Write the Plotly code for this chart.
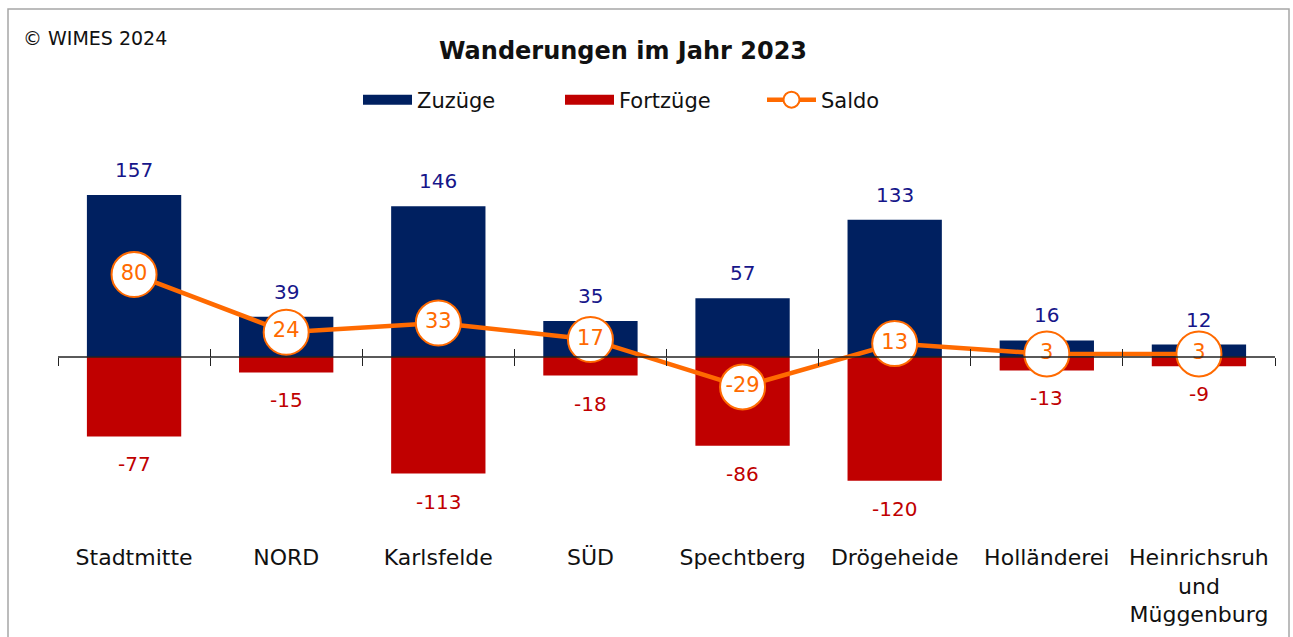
import plotly.graph_objects as go

categories = ["Stadtmitte", "NORD", "Karlsfelde", "SÜD", "Spechtberg",
              "Drögeheide", "Holländerei", "Heinrichsruh<br>und<br>Müggenburg"]
zuzuege = [157, 39, 146, 35, 57, 133, 16, 12]
fortzuege = [-77, -15, -113, -18, -86, -120, -13, -9]
saldo = [80, 24, 33, 17, -29, 13, 3, 3]

NAVY = "#002060"
RED = "#C00000"
ORANGE = "#FF6A00"
LABEL_NAVY = "#16168A"
FONT = "DejaVu Sans"

W, H = 1293, 637
ML, MR, MT, MB = 58, 18, 150, 102
Y_MIN, Y_MAX = -172.5, 200.6
zero_pos = (0 - Y_MIN) / (Y_MAX - Y_MIN)
plot_w = W - ML - MR
plot_h = H - MT - MB
n = len(categories)

fig = go.Figure()

fig.add_trace(go.Bar(x=categories, y=zuzuege, marker=dict(color=NAVY, line=dict(width=0)),
                     width=0.62, showlegend=False, name="Zuzüge", hoverinfo="skip"))
fig.add_trace(go.Bar(x=categories, y=fortzuege, marker=dict(color=RED, line=dict(width=0)),
                     width=0.62, showlegend=False, name="Fortzüge", hoverinfo="skip"))

# zero axis line with crossing tick marks (two overlaying axes)
for ax in ("x2", "x3"):
    fig.add_trace(go.Scatter(x=[-0.5, n - 0.5], y=[0, 0], xaxis=ax, mode="lines",
                             line=dict(color="#222222", width=1), showlegend=False,
                             hoverinfo="skip"))

# legend swatches
fig.add_trace(go.Scatter(x=[None], y=[None], mode="lines", name="Zuzüge",
                         line=dict(color=NAVY, width=13)))
fig.add_trace(go.Scatter(x=[None], y=[None], mode="lines", name="Fortzüge",
                         line=dict(color=RED, width=13)))

fig.add_trace(go.Scatter(x=categories, y=saldo, mode="lines+markers", name="Saldo",
                         line=dict(color=ORANGE, width=4.5),
                         marker=dict(size=45, color="white", line=dict(color=ORANGE, width=2)),
                         cliponaxis=False))
fig.add_trace(go.Scatter(x=categories, y=saldo, mode="text", text=[str(v) for v in saldo],
                         textposition="middle center", showlegend=False,
                         textfont=dict(color=ORANGE, size=21, family=FONT), cliponaxis=False))

annotations = []
for c, v in zip(categories, zuzuege):
    annotations.append(dict(x=c, y=v, xref="x", yref="y", text=str(v), showarrow=False,
                            yanchor="middle", yshift=25,
                            font=dict(color=LABEL_NAVY, size=20, family=FONT)))
for c, v in zip(categories, fortzuege):
    annotations.append(dict(x=c, y=v, xref="x", yref="y", text=str(v), showarrow=False,
                            yanchor="middle", yshift=-28,
                            font=dict(color=RED, size=20, family=FONT)))

annotations.append(dict(text="© WIMES 2024", xref="paper", yref="paper",
                        x=(21 - ML) / plot_w, y=1 + (MT - 38) / plot_h,
                        xanchor="left", yanchor="middle", showarrow=False,
                        font=dict(size=19, color="#111111", family=FONT)))
annotations.append(dict(text="<b>Wanderungen im Jahr 2023</b>", xref="paper", yref="paper",
                        x=(623 - ML) / plot_w, y=1 + (MT - 51) / plot_h,
                        xanchor="center", yanchor="middle", showarrow=False,
                        font=dict(size=24, color="#111111", family=FONT)))

fig.update_layout(
    width=W, height=H,
    margin=dict(l=ML, r=MR, t=MT, b=MB, autoexpand=False),
    paper_bgcolor="white", plot_bgcolor="white",
    barmode="relative",
    font=dict(family=FONT, size=21, color="#111111"),
    showlegend=True,
    hovermode=False,
    legend=dict(orientation="h", xanchor="center", yanchor="middle",
                x=(661 - ML) / plot_w, y=1 + (MT - 100) / plot_h,
                font=dict(size=21, family=FONT, color="#111111"),
                entrywidth=138, itemwidth=49, bgcolor="rgba(0,0,0,0)"),
    xaxis=dict(type="category", showline=False, ticks="", showgrid=False,
               tickfont=dict(size=22, family=FONT, color="#111111"),
               ticklabelstandoff=7, automargin=False,
               range=[-0.5, n - 0.5]),
    xaxis2=dict(overlaying="x", anchor="free", position=zero_pos, type="linear",
                range=[-0.5, n - 0.5], showline=False, automargin=False,
                ticks="outside", ticklen=8, tickcolor="#222222", tickwidth=1,
                tickvals=[i - 0.5 for i in range(n + 1)],
                showticklabels=False, showgrid=False, zeroline=False),
    xaxis3=dict(overlaying="x", anchor="free", position=zero_pos, type="linear",
                range=[-0.5, n - 0.5], showline=False, automargin=False,
                ticks="inside", ticklen=8, tickcolor="#222222", tickwidth=1,
                tickvals=[i - 0.5 for i in range(n + 1)],
                showticklabels=False, showgrid=False, zeroline=False),
    yaxis=dict(range=[Y_MIN, Y_MAX], showticklabels=False, showgrid=False,
               zeroline=False, ticks="", showline=False, automargin=False),
    annotations=annotations,
    shapes=[dict(type="rect", xref="paper", yref="paper",
                 x0=(8 - ML) / plot_w, x1=(1289 - ML) / plot_w,
                 y0=-(H + 5 - MT - plot_h) / plot_h, y1=1 + (MT - 9) / plot_h,
                 line=dict(color="#A6A6A6", width=1.5), layer="below")],
)

fig.write_html("out.html", config={"displayModeBar": False},
               post_script="document.body.style.margin='0';document.body.style.overflow='hidden';")
